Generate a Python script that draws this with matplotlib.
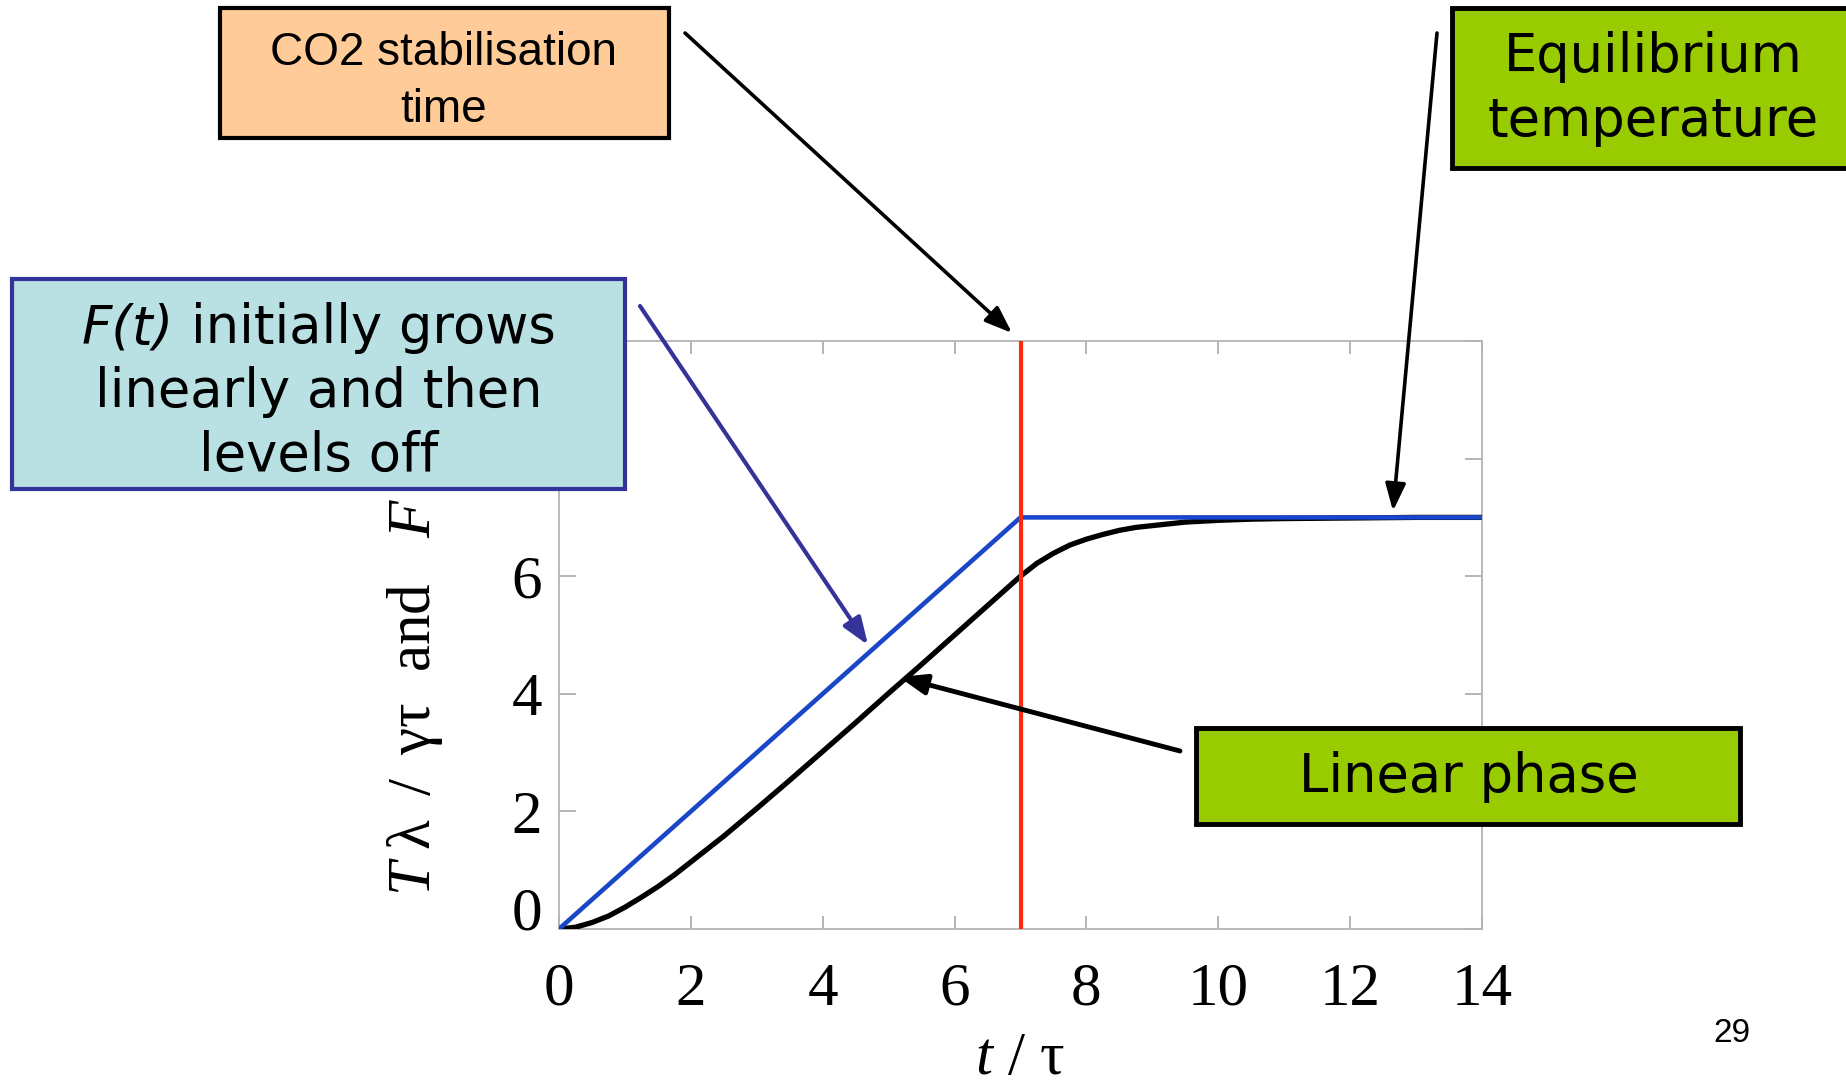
import matplotlib
matplotlib.use("Agg")
import matplotlib.pyplot as plt
from matplotlib.patches import Rectangle, FancyArrowPatch, ArrowStyle

# ---- data -------------------------------------------------------------
# Forcing F(t): grows linearly until CO2 stabilisation, then constant
forcing_t = [0, 7, 14]
forcing_val = [0, 7, 7]

# Temperature response T*lambda/(gamma*tau)
temp_t = [0, 0.25, 0.5, 0.75, 1, 1.25, 1.5, 1.75, 2, 2.5, 3, 3.5, 4, 4.5,
          5, 5.5, 6, 6.5, 7, 7.25, 7.5, 7.75, 8, 8.25, 8.5, 8.75, 9, 9.5,
          10, 10.5, 11, 12, 13, 14]
temp_val = [0, 0.03, 0.11, 0.22, 0.37, 0.54, 0.72, 0.92, 1.14, 1.58, 2.05,
            2.53, 3.02, 3.51, 4.01, 4.50, 5.00, 5.50, 6.00, 6.22, 6.39, 6.53,
            6.63, 6.71, 6.78, 6.83, 6.86, 6.92, 6.95, 6.97, 6.98, 6.99, 7.0,
            7.0]

t_stab = 7

x_ticks = [0, 2, 4, 6, 8, 10, 12, 14]
y_ticks = [0, 2, 4, 6, 8, 10]

# ---- figure -----------------------------------------------------------
W, H = 1846, 1080
plt.rcParams["mathtext.fontset"] = "custom"
plt.rcParams["mathtext.rm"] = "Liberation Serif"
plt.rcParams["mathtext.it"] = "Liberation Serif:italic"
plt.rcParams["mathtext.default"] = "rm"

fig = plt.figure(figsize=(W / 100, H / 100), dpi=100)
fig.patch.set_facecolor("white")


def fig_rect(x0, y0, x1, y1):
    """Pixel box (top-left origin) -> figure fraction rect."""
    return [x0 / W, 1 - y1 / H, (x1 - x0) / W, (y1 - y0) / H]


def P(x, y):
    return (x / W, 1 - y / H)


ax = fig.add_axes(fig_rect(559, 341, 1482, 929))
ax.plot(temp_t, temp_val, color="black", lw=3.8, zorder=3,
        solid_capstyle="round")
ax.plot(forcing_t, forcing_val, color="#1a46c8", lw=3.3, zorder=4)
ax.axvline(t_stab, color="#ff2a10", lw=3.0, zorder=5)

ax.set_xlim(0, 14)
ax.set_ylim(0, 10)
ax.set_xticks(x_ticks)
ax.set_yticks(y_ticks)
serif = "Liberation Serif"
ax.set_xticklabels([str(v) for v in x_ticks], fontfamily=serif, fontsize=44)
ax.set_yticklabels([str(v) for v in y_ticks], fontfamily=serif, fontsize=44)
# the lowest y label sits on the axis line instead of centring on it
ax.get_yticklabels()[0].set_verticalalignment("baseline")
ax.tick_params(axis="x", direction="in", length=9.5, width=1.2,
               color="#a8a8a8", top=True, pad=24)
ax.tick_params(axis="y", direction="in", length=12, width=1.2,
               color="#a8a8a8", right=True, pad=12)
for sp in ax.spines.values():
    sp.set_color("#b4b4b4")
    sp.set_linewidth(1.3)

pix = fig.transFigure
ax.text(*P(430, 896),
        r"$\mathit{T}\;\lambda\;\;/\;\;\gamma\tau$  and   $\mathit{F}$",
        transform=pix, rotation=90, rotation_mode="anchor", ha="left",
        va="baseline", fontfamily=serif, fontsize=44, clip_on=False)
ax.text(*P(1020, 1074), r"$\mathit{t}$ / τ", transform=pix, ha="center",
        va="baseline", fontfamily=serif, fontsize=44, clip_on=False)

# ---- annotation layer (pixel coordinates) -----------------------------
ov = fig.add_axes([0, 0, 1, 1], zorder=10)
ov.set_xlim(0, W)
ov.set_ylim(H, 0)
ov.axis("off")
ov.patch.set_alpha(0)


def box(x0, y0, x1, y1, face, edge, lw=3):
    ov.add_patch(Rectangle((x0, y0), x1 - x0, y1 - y0, facecolor=face,
                           edgecolor=edge, lw=lw, clip_on=False, zorder=2))


def lines(xc, baselines, texts, family, size):
    for yb, s in zip(baselines, texts):
        ov.text(xc, yb, s, ha="center", va="baseline", fontfamily=family,
                fontsize=size, zorder=4)


def arrow(x0, y0, x1, y1, color, lw):
    style = ArrowStyle("-|>", head_length=0.75, head_width=0.28)
    ov.add_patch(FancyArrowPatch((x0, y0), (x1, y1), arrowstyle=style,
                                 mutation_scale=22, color=color, lw=lw,
                                 shrinkA=0, shrinkB=0, zorder=3,
                                 clip_on=False))


sans = "DejaVu Sans"

# CO2 stabilisation time
box(220, 8, 669, 138, "#ffcc99", "black", 3)
lines(444, [65, 122], ["CO2 stabilisation", "time"], "Liberation Sans", 33)
arrow(685, 33, 1012, 333, "black", 2.6)

# Equilibrium temperature
box(1452, 8, 1860, 168, "#99cc00", "black", 3.5)
lines(1653, [72, 136], ["Equilibrium", "temperature"], sans, 38)
arrow(1437, 33, 1393, 511, "black", 2.6)

# F(t) description: italic "F(t)" followed by upright text on line one
box(12, 279, 625, 489, "#b9e0e3", "#333399", 3)
renderer = fig.canvas.get_renderer()
t_it = ov.text(0, 343, "F(t)", ha="left", va="baseline", fontfamily=sans,
               fontstyle="italic", fontsize=38, zorder=4)
t_rm = ov.text(0, 343, "initially grows", ha="left", va="baseline",
               fontfamily=sans, fontsize=38, zorder=4)
w_it = t_it.get_window_extent(renderer).width
w_rm = t_rm.get_window_extent(renderer).width
gap = 0.318 * 38 * 100 / 72
x_start = 319 - (w_it + gap + w_rm) / 2
t_it.set_x(x_start)
t_rm.set_x(x_start + w_it + gap)
lines(319, [407, 471], ["linearly and then", "levels off"], sans, 38)
arrow(640, 306, 868, 645, "#333399", 3)

# Linear phase
box(1196, 728, 1740, 824, "#99cc00", "black", 3.5)
lines(1469, [792], ["Linear phase"], sans, 38)
arrow(1180, 751, 899, 677, "black", 3.5)

# slide number
ov.text(1732, 1033, "29", ha="center", va="center",
        fontfamily="Liberation Sans", fontsize=24, zorder=4)

fig.savefig("out.png", dpi=100)
